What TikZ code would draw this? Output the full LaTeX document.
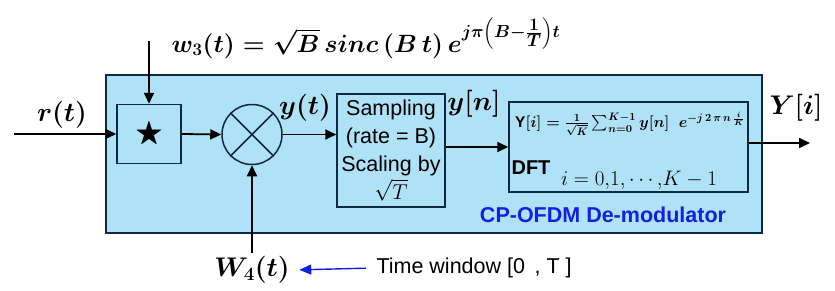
\RequirePackage{fix-cm}
\documentclass[tikz,border=0pt]{standalone}
\usepackage{amsmath}
\usepackage{amssymb}
\usepackage[no-math]{fontspec}
\newfontfamily\labelfont{Liberation Sans}
\usetikzlibrary{arrows.meta, positioning}

\definecolor{panelblue}{RGB}{175,226,246}
\definecolor{navy}{RGB}{16,40,64}
\definecolor{textblue}{RGB}{18,32,228}

\tikzset{
  block/.style={draw=navy, line width=1.5pt, fill=panelblue, inner sep=0pt},
  sig/.style={-{Triangle[length=11pt,width=10pt]}, line width=1.8pt},
  mathlbl/.style={font=\fontsize{27}{30}\selectfont\boldmath},
  txt/.style={font=\fontsize{21.5}{28}\selectfont\labelfont},
  txtbold/.style={font=\fontsize{21.5}{28}\selectfont\labelfont\bfseries},
}

\begin{document}
\begin{tikzpicture}[x=1pt, y=-1pt]
    \useasboundingbox (0,0) rectangle (835,290);
    % demodulator panel and blocks
    \node[block, line width=2pt, minimum width=656, minimum height=158] (demod) at (434,154) {};
    \node[block, minimum width=64, minimum height=59, font=\fontsize{29}{30}\selectfont] (conv) at (149,134) {$\bigstar$};
    \node[block, circle, minimum size=60] (mix) at (252,134.5) {};
    \draw[navy, line width=1.5pt] (mix.45) -- (mix.225) (mix.135) -- (mix.315);
    \node[block, txt, align=center, minimum width=108, minimum height=113] (samp) at (391,150.5) {Sampling\\(rate = B)\\Scaling by\\$\sqrt{T}$};
    \node[block, minimum width=239, minimum height=90] (dft) at (628.5,147) {};
    \node[font=\fontsize{15.5}{17}\selectfont\boldmath, inner sep=0pt] (dfteq) at (630,124) {$\text{\labelfont\bfseries Y}[i] = \frac{1}{\sqrt{K}}\sum_{n=0}^{K-1} y[n]\ \ e^{-j\,2\,\pi\,n\,\frac{i}{K}}$};
    \node[txtbold, font=\fontsize{20}{24}\selectfont\labelfont\bfseries, inner sep=0pt] (dftlbl) at (531,168) {DFT};
    \node[font=\fontsize{21}{24}\selectfont, inner sep=0pt] (idx) at (639,180) {$i = 0{,}1{,}\cdots{,}K-1$};
    \node[txtbold, textblue] (demodlbl) at (603,215) {CP-OFDM De-modulator};

    % signal labels
    \node[mathlbl] (rt) at (62,115) {$r(t)$};
    \node[mathlbl] (yt) at (305,108) {$y(t)$};
    \node[mathlbl] (yn) at (474,104) {$y[n]$};
    \node[mathlbl] (Yi) at (796,108) {$Y[i]$};
    \node[mathlbl, font=\fontsize{25}{30}\selectfont\boldmath, anchor=base west] (w3) at (168,52) {$w_3(t) = \sqrt{B}\, sinc\,(B\,t)\, e^{j\pi\left(B-\frac{\scriptstyle 1}{\scriptstyle T}\right)t}$};
    \node[mathlbl] (w4) at (252,270) {$W_4(t)$};
    \node[txt, anchor=west] (twin) at (373,268) {Time window [0\,\ , T ]};

    % connectors
    \coordinate (rin) at (14,134);
    \coordinate (win) at (149,41);
    \coordinate (yout) at (810,143);
    \draw[sig] (rin) -- (conv.west);
    \draw[sig] (win) -- (conv.north);
    \draw[sig] (conv.east) -- (mix.west);
    \draw[sig] (mix.east) -- (samp.west |- mix.east);
    \draw[sig] (samp.east |- dft.west) -- (dft.west);
    \draw[sig] (dft.east |- yout) -- (yout);
    \draw[sig] (w4.north) -- (mix.south);
    \draw[-{Triangle[length=12pt,width=10pt]}, textblue, line width=1.4pt, shorten <=7pt, shorten >=6pt] (twin.west) -- (w4.east);
\end{tikzpicture}
\end{document}
